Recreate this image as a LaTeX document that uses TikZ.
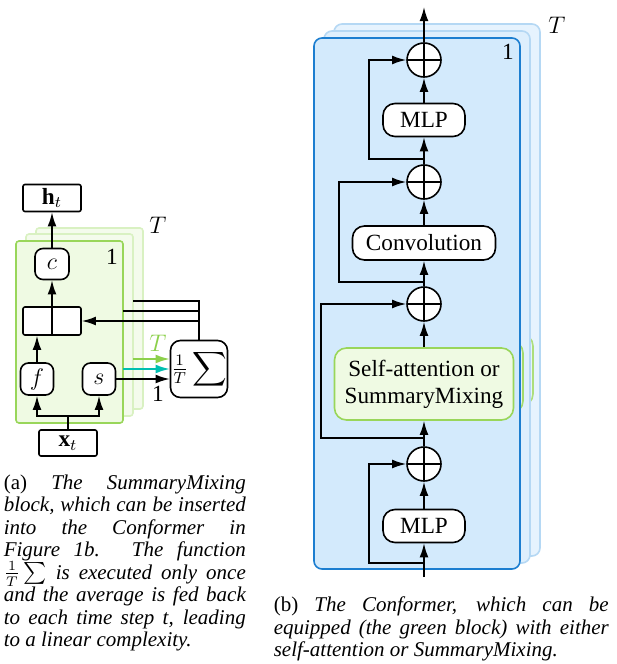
\documentclass[tikz,border=0pt]{standalone}
\usepackage{amsmath}
\usepackage{fontspec}
\setmainfont{Liberation Serif}
\usetikzlibrary{arrows.meta}
\definecolor{smfill}{HTML}{EFFAE3}
\definecolor{smline}{HTML}{99D65A}
\definecolor{smfillB}{HTML}{F4FBEC}
\definecolor{smlineB}{HTML}{D9F1C2}
\definecolor{cffill}{HTML}{D3EAFC}
\definecolor{cfline}{HTML}{1C7ED0}
\definecolor{cffillB}{HTML}{E6F3FE}
\definecolor{cflineB}{HTML}{B5D8F4}
\definecolor{avgT}{HTML}{8CD04B}
\definecolor{avgmid}{HTML}{00BFB0}

\begin{document}
\begin{tikzpicture}[x=0.5pt, y=-0.5pt, >={Latex[length=7pt, width=4.4pt]}, thick,
    every node/.style={font=\fontsize{11.6}{13.6}\selectfont},
    vecbox/.style={draw, rectangle, rounded corners=1pt, fill=white, minimum width=29pt, minimum height=13.5pt, inner sep=0pt},
    fnbox/.style={draw, rectangle, rounded corners=4pt, fill=white, minimum width=16.5pt, minimum height=16pt, inner sep=0pt},
    addnode/.style={draw, circle, fill=white, minimum size=17pt, inner sep=0pt,
        path picture={\draw[thick] (path picture bounding box.north) -- (path picture bounding box.south)
            (path picture bounding box.west) -- (path picture bounding box.east);}},
    layerbox/.style={draw, rectangle, rounded corners=6pt, fill=white, minimum height=16.5pt, inner sep=0pt},
    capt/.style={anchor=north west, inner sep=0pt, align=justify, font=\fontsize{10.5}{11.25}\selectfont}]
\useasboundingbox (0,0) rectangle (616,664);

% (a) SummaryMixing
\draw[fill=smfillB, draw=smlineB, rounded corners=1.5pt] (36,228) rectangle (143,409);
\draw[fill=smfillB, draw=smlineB, rounded corners=1.5pt] (26,234) rectangle (133,416);
\draw[fill=smfill, draw=smline, rounded corners=1.5pt] (16,241) rectangle (123,423);
\node (one) at (112,257) {1};
\node (tee) at (158,225) {$T$};

\node[vecbox] (ht) at (52,198) {$\mathbf{h}_t$};
\node[fnbox, minimum width=17pt, minimum height=15.5pt] (c) at (52,264) {$c$};
\node[vecbox, minimum height=14pt] (split) at (52,321) {};
\node[fnbox] (f) at (37,379) {$f$};
\node[fnbox] (s) at (99,379) {$s$};
\node[vecbox, minimum height=13pt] (xt) at (68,443) {$\mathbf{x}_t$};
\node[draw, rectangle, rounded corners=5pt, fill=white, minimum size=28.5pt, inner sep=0pt] (sum) at (199,369) {${\textstyle\frac{1}{T}}\displaystyle\sum$};
\coordinate (fork) at (68,416);
\coordinate (fbT) at (133,301);
\coordinate (fbM) at (123,311);
\coordinate (avT) at (133,359);
\coordinate (avM) at (123,369);

\draw[->] (c) -- (ht);
\draw[->] (split.south) -- (c);
\draw[->] (f) -- (f |- split.south);
\draw (xt) -- (fork);
\draw[->] (fork) -| (f);
\draw[->] (fork) -| (s);
\draw[->] (s) -- (s -| sum.west) node[pos=0.78, below] {1};
\draw[->, avgmid] (avM) -- (avM -| sum.west);
\draw[->, avgT] (avT) -- (avT -| sum.west) node[pos=0.68, above] {$T$};
\draw[->] (sum.north) |- (split.east);
\draw (sum.north) |- (fbT);
\draw (fbM) -- (fbM -| sum.north);

% (b) Conformer
\draw[fill=cffillB, draw=cflineB, rounded corners=4pt] (334,24) rectangle (540,556);
\draw[draw=smline!80, rounded corners=6pt] (354,334) rectangle (533,406);
\draw[fill=cffillB!60!cffill, draw=cflineB, rounded corners=4pt] (324,31) rectangle (530,563);
\draw[draw=smline!90, rounded corners=6pt] (344,341) rectangle (523,413);
\draw[fill=cffill, draw=cfline, rounded corners=4pt] (314,38) rectangle (520,569);
\node (oneB) at (508,52) {1};
\node (teeB) at (557,25) {$T$};

\node[addnode] (p1) at (424,60) {};
\node[layerbox, minimum width=41pt] (mlpA) at (424,120) {MLP};
\node[addnode] (p2) at (424,182) {};
\node[layerbox, minimum width=71.5pt, minimum height=17pt] (conv) at (424,243) {Convolution};
\node[addnode] (p3) at (424,304) {};
\node[layerbox, fill=smfill, draw=smline, minimum width=89.5pt, minimum height=36pt, align=center] (mix) at (424,384) {Self-attention or\\SummaryMixing};
\node[addnode] (p4) at (424,464) {};
\node[layerbox, minimum width=41pt] (mlpB) at (424,526) {MLP};
\coordinate (in) at (424,577);
\coordinate (out) at (424,7);
\coordinate (s1) at (424,563);
\coordinate (s2) at (424,438);
\coordinate (s3) at (424,282);
\coordinate (s4) at (424,159);

\draw[->] (in) -- (mlpB);
\draw[->] (mlpB) -- (p4);
\draw[->] (p4) -- (mix);
\draw[->] (mix) -- (p3);
\draw[->] (p3) -- (conv);
\draw[->] (conv) -- (p2);
\draw[->] (p2) -- (mlpA);
\draw[->] (mlpA) -- (p1);
\draw[->] (p1) -- (out);
\draw[->] (s1) -- ++(-55,0) |- (p4);
\draw[->] (s2) -- ++(-103,0) |- (p3);
\draw[->] (s3) -- ++(-85,0) |- (p2);
\draw[->] (s4) -- ++(-55,0) |- (p1);

% captions
\node[capt, text width=121pt] (captA) at (3,474) {(a) \textit{The SummaryMixing\linebreak block, which can be inserted\linebreak into the Conformer in\linebreak Figure 1b. The function\linebreak $\frac{1}{T}\sum$ is executed only once\linebreak and the average is fed back\linebreak to each time step t, leading\linebreak to a linear complexity.}};
\node[capt, text width=167.5pt] (captB) at (273,596) {(b) \textit{The Conformer, which can be\linebreak equipped (the green block) with either\linebreak self-attention or SummaryMixing.}};
\end{tikzpicture}
\end{document}
